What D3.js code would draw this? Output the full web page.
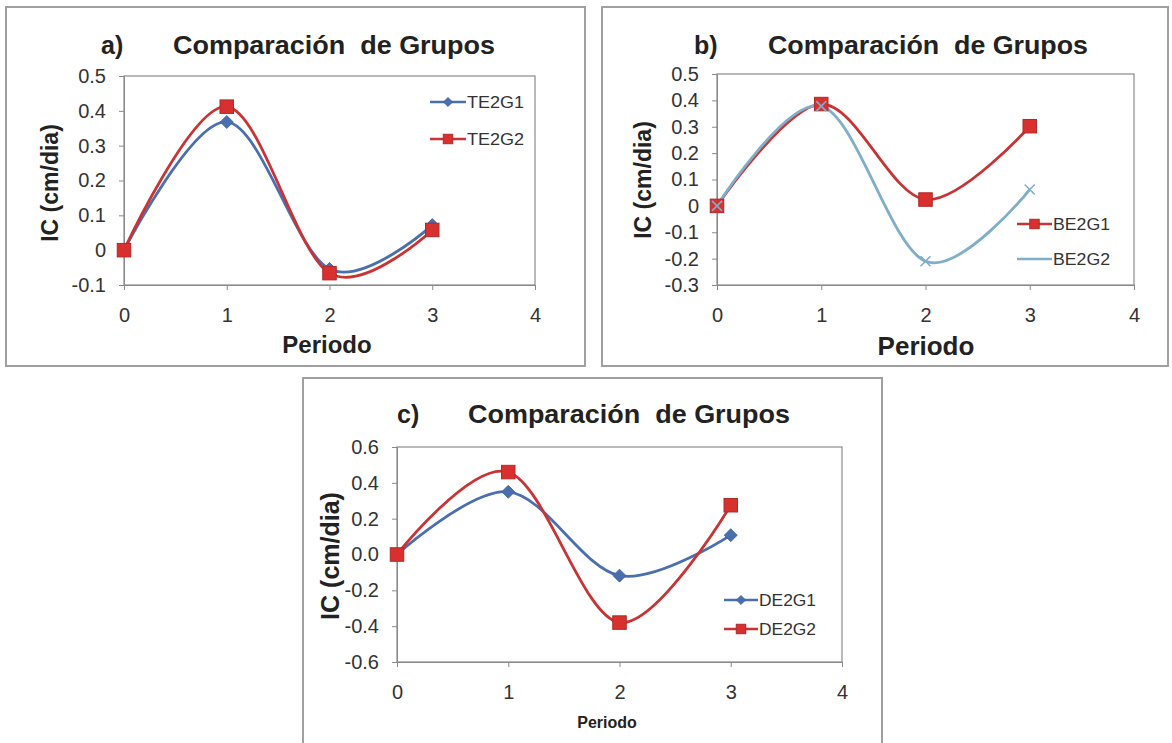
<!DOCTYPE html>
<html><head><meta charset="utf-8">
<script src="https://cdn.jsdelivr.net/npm/d3@7"></script>
<style>
body{margin:0;background:#fff;}
svg{display:block;}
text{font-family:"Liberation Sans",Arial,sans-serif;}
</style></head><body>
<svg id="chart" width="1172" height="743"></svg>
<script>
// Índice de crecimiento (cm/día) por periodo
const periods = [0, 1, 2, 3];
const te2g1 = [0, 0.368, -0.054, 0.072];
const te2g2 = [0, 0.412, -0.066, 0.058];
const be2g1 = [0, 0.386, 0.024, 0.302];
const be2g2 = [0, 0.378, -0.21, 0.062];
const de2g1 = [0, 0.35, -0.118, 0.108];
const de2g2 = [0, 0.46, -0.38, 0.275];

const xTicks = [0, 1, 2, 3, 4];
const yTicksA = [-0.1, 0, 0.1, 0.2, 0.3, 0.4, 0.5];
const yLabelsA = ["-0.1", "0", "0.1", "0.2", "0.3", "0.4", "0.5"];
const yTicksB = [-0.3, -0.2, -0.1, 0, 0.1, 0.2, 0.3, 0.4, 0.5];
const yLabelsB = ["-0.3", "-0.2", "-0.1", "0", "0.1", "0.2", "0.3", "0.4", "0.5"];
const yTicksC = [-0.6, -0.4, -0.2, 0, 0.2, 0.4, 0.6];
const yLabelsC = ["-0.6", "-0.4", "-0.2", "0.0", "0.2", "0.4", "0.6"];

const titleText = "Comparación  de Grupos";
const yTitle = "IC (cm/dia)";
const xTitle = "Periodo";

const BLUE = "#4a6fb0", RED = "#c93334", LIGHTBLUE = "#7eaec8";

const svg = d3.select("#chart");

const panels = [
  {
    letter: "a)", frame: [6, 7, 585, 366], plot: [124, 76, 535, 285],
    yTicks: yTicksA, yLabels: yLabelsA,
    letterX: 101, titleX: 173, titleY: 54, titleSize: 25, titleLen: 322,
    yTitlePos: [50, 183], yTitleSize: 23,
    xTitlePos: [327, 353], xTitleSize: 24,
    series: [
      { name: "TE2G1", values: te2g1, color: BLUE, marker: "diamond" },
      { name: "TE2G2", values: te2g2, color: RED, marker: "square" }
    ],
    legend: { x: 430, y: 102, dy: 37, len: 36 }
  },
  {
    letter: "b)", frame: [602, 7, 1168, 366], plot: [717, 74, 1134, 285],
    yTicks: yTicksB, yLabels: yLabelsB,
    letterX: 694, titleX: 768, titleY: 54, titleSize: 25, titleLen: 320,
    yTitlePos: [643, 180], yTitleSize: 23,
    xTitlePos: [926, 355], xTitleSize: 26,
    series: [
      { name: "BE2G1", values: be2g1, color: RED, marker: "square" },
      { name: "BE2G2", values: be2g2, color: LIGHTBLUE, marker: "x" }
    ],
    legend: { x: 1017, y: 224, dy: 35, len: 35, noMarker: ["BE2G2"] }
  },
  {
    letter: "c)", frame: [303, 378, 882, 760], plot: [397, 447, 842, 662],
    yTicks: yTicksC, yLabels: yLabelsC,
    letterX: 397, titleX: 468, titleY: 423, titleSize: 25, titleLen: 322,
    yTitlePos: [330, 556], yTitleSize: 25,
    xTitlePos: [607, 728], xTitleSize: 16,
    series: [
      { name: "DE2G1", values: de2g1, color: BLUE, marker: "diamond" },
      { name: "DE2G2", values: de2g2, color: RED, marker: "square" }
    ],
    legend: { x: 724, y: 600, dy: 29, len: 34 }
  }
];

function drawMarker(g, kind, color, cx, cy, scale) {
  const s = scale || 1;
  if (kind === "square") {
    const side = 13.5 * s;
    g.append("rect")
      .attr("x", cx - side / 2).attr("y", cy - side / 2)
      .attr("width", side).attr("height", side)
      .attr("fill", "#d8302e").attr("stroke", "#b02a2a").attr("stroke-width", 1);
  } else if (kind === "diamond") {
    const r = 6.5 * s;
    g.append("path")
      .attr("d", `M${cx},${cy - r}L${cx + r},${cy}L${cx},${cy + r}L${cx - r},${cy}Z`)
      .attr("fill", color).attr("stroke", d3.color(color).darker(0.4)).attr("stroke-width", 0.8);
  } else if (kind === "x") {
    const r = 5 * s;
    g.append("path")
      .attr("d", `M${cx - r},${cy - r}L${cx + r},${cy + r}M${cx - r},${cy + r}L${cx + r},${cy - r}`)
      .attr("stroke", color).attr("stroke-width", 1.6).attr("fill", "none");
  }
}

panels.forEach(p => {
  const [fx0, fy0, fx1, fy1] = p.frame;
  svg.append("rect")
    .attr("x", fx0).attr("y", fy0).attr("width", fx1 - fx0).attr("height", fy1 - fy0)
    .attr("fill", "#fff").attr("stroke", "#a0a0a0").attr("stroke-width", 2);

  const [px0, py0, px1, py1] = p.plot;
  const x = d3.scaleLinear().domain([0, 4]).range([px0, px1]);
  const yDom = d3.extent(p.yTicks);
  const y = d3.scaleLinear().domain(yDom).range([py1, py0]);

  const g = svg.append("g");

  // plot area border
  g.append("rect")
    .attr("x", px0).attr("y", py0).attr("width", px1 - px0).attr("height", py1 - py0)
    .attr("fill", "#fff").attr("stroke", "#8a8a8a").attr("stroke-width", 1.2);

  // y axis
  const yAxis = d3.axisLeft(y).tickValues(p.yTicks).tickSize(5).tickPadding(13)
    .tickFormat((d, i) => p.yLabels[i]);
  const ya = g.append("g").attr("transform", `translate(${px0},0)`).call(yAxis);
  ya.select(".domain").attr("stroke", "#8a8a8a");
  ya.selectAll(".tick line").attr("stroke", "#8a8a8a");
  ya.selectAll(".tick text").attr("font-size", 20).attr("fill", "#333")
    .attr("font-family", "'Liberation Sans', Arial, sans-serif");

  // x axis
  const xAxis = d3.axisBottom(x).tickValues(xTicks).tickSize(5).tickPadding(18)
    .tickFormat(d3.format("d"));
  const xa = g.append("g").attr("transform", `translate(0,${py1})`).call(xAxis);
  xa.select(".domain").attr("stroke", "#8a8a8a");
  xa.selectAll(".tick line").attr("stroke", "#8a8a8a");
  xa.selectAll(".tick text").attr("font-size", 20).attr("fill", "#333")
    .attr("font-family", "'Liberation Sans', Arial, sans-serif");

  // titles
  svg.append("text").attr("x", p.letterX).attr("y", p.titleY)
    .attr("font-size", p.titleSize).attr("font-weight", "bold").attr("fill", "#222")
    .text(p.letter);
  svg.append("text").attr("x", p.titleX).attr("y", p.titleY)
    .attr("font-size", p.titleSize).attr("font-weight", "bold").attr("fill", "#222")
    .attr("textLength", p.titleLen).attr("lengthAdjust", "spacingAndGlyphs")
    .style("white-space", "pre")
    .text(titleText);
  svg.append("text")
    .attr("transform", `translate(${p.yTitlePos[0]},${p.yTitlePos[1]}) rotate(-90)`)
    .attr("text-anchor", "middle").attr("dy", "0.35em")
    .attr("font-size", p.yTitleSize).attr("font-weight", "bold").attr("fill", "#222")
    .text(yTitle);
  svg.append("text").attr("x", p.xTitlePos[0]).attr("y", p.xTitlePos[1])
    .attr("text-anchor", "middle")
    .attr("font-size", p.xTitleSize).attr("font-weight", "bold").attr("fill", "#222")
    .text(xTitle);

  // series lines (smoothed)
  const line = d3.line()
    .x((d, i) => x(periods[i]))
    .y(d => y(d))
    .curve(d3.curveCardinal.tension(0));

  p.series.forEach(s => {
    g.append("path").datum(s.values)
      .attr("d", line).attr("fill", "none")
      .attr("stroke", s.color).attr("stroke-width", 2.8).attr("stroke-linejoin", "round");
  });
  p.series.forEach(s => {
    s.values.forEach((v, i) => drawMarker(g, s.marker, s.color, x(periods[i]), y(v)));
  });

  // legend
  const L = p.legend;
  p.series.forEach((s, i) => {
    const ly = L.y + i * L.dy;
    svg.append("line").attr("x1", L.x).attr("x2", L.x + L.len)
      .attr("y1", ly).attr("y2", ly)
      .attr("stroke", s.color).attr("stroke-width", 2.4);
    if (!(L.noMarker || []).includes(s.name)) {
      drawMarker(svg, s.marker, s.color, L.x + L.len / 2, ly, 0.7);
    }
    svg.append("text").attr("x", L.x + L.len + 1).attr("y", ly).attr("dy", "0.36em")
      .attr("font-size", 17).attr("fill", "#333")
      .attr("textLength", 57).attr("lengthAdjust", "spacingAndGlyphs")
      .text(s.name);
  });
});
</script>
</body></html>
